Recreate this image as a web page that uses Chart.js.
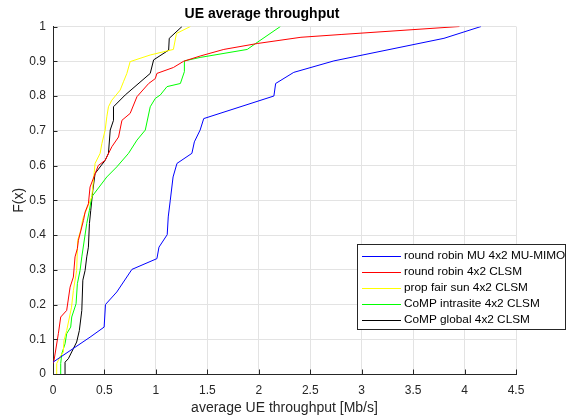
<!DOCTYPE html>
<html>
<head>
<meta charset="utf-8">
<script src="https://cdn.jsdelivr.net/npm/chart.js@4/dist/chart.umd.min.js"></script>
<style>
  html, body { margin: 0; padding: 0; background: #fff; }
  #wrap { width: 567px; height: 419px; }
</style>
</head>
<body>
<div id="wrap"><canvas id="cdfChart" width="567" height="419"></canvas></div>
<script>
// Series names and colours
const seriesLabels = ['round robin MU 4x2 MU-MIMO', 'round robin 4x2 CLSM', 'prop fair sun 4x2 CLSM', 'CoMP intrasite 4x2 CLSM', 'CoMP global 4x2 CLSM'];
const seriesColors = ['#0000ff', '#ff0000', '#ffff00', '#00ff00', '#000000'];

// Axis ticks
const xTicks = [0, 0.5, 1, 1.5, 2, 2.5, 3, 3.5, 4, 4.5];
const yTicks = [0, 0.1, 0.2, 0.3, 0.4, 0.5, 0.6, 0.7, 0.8, 0.9, 1];

// round robin MU 4x2 MU-MIMO
const rrMuX = [0, 0.36, 0.497, 0.51, 0.62, 0.767, 1.01, 1.03, 1.11, 1.12, 1.14, 1.167, 1.205, 1.35, 1.374, 1.43, 1.465, 2.147, 2.164, 2.34, 2.73, 3.80, 4.16];
const rrMuY = [0.034, 0.106, 0.135, 0.2, 0.236, 0.301, 0.332, 0.365, 0.401, 0.452, 0.5, 0.567, 0.606, 0.635, 0.668, 0.702, 0.735, 0.8, 0.836, 0.868, 0.901, 0.966, 1.0];

// round robin 4x2 CLSM
const rrX = [0, 0.01, 0.052, 0.075, 0.133, 0.166, 0.198, 0.214, 0.237, 0.247, 0.296, 0.312, 0.344, 0.36, 0.44, 0.507, 0.572, 0.637, 0.67, 0.75, 0.816, 0.93, 0.994, 1.01, 1.17, 1.27, 1.43, 1.66, 1.985, 2.41, 2.80, 3.95];
const rrY = [0.03, 0.039, 0.116, 0.164, 0.183, 0.25, 0.279, 0.337, 0.361, 0.385, 0.442, 0.466, 0.49, 0.538, 0.60, 0.615, 0.654, 0.682, 0.73, 0.75, 0.798, 0.836, 0.85, 0.865, 0.882, 0.9, 0.915, 0.934, 0.951, 0.969, 0.977, 1.0];

// prop fair sun 4x2 CLSM
const pfX = [0.03, 0.036, 0.075, 0.1, 0.107, 0.133, 0.18, 0.198, 0.23, 0.24, 0.27, 0.29, 0.335, 0.377, 0.409, 0.458, 0.475, 0.507, 0.523, 0.539, 0.572, 0.653, 0.685, 0.718, 0.75, 0.945, 1.17, 1.2, 1.335];
const pfY = [0, 0.03, 0.053, 0.063, 0.097, 0.125, 0.192, 0.24, 0.298, 0.385, 0.414, 0.447, 0.48, 0.51, 0.606, 0.635, 0.663, 0.702, 0.74, 0.769, 0.788, 0.817, 0.841, 0.865, 0.899, 0.918, 0.934, 0.98, 1.0];

// CoMP intrasite 4x2 CLSM
const intraX = [0.075, 0.075, 0.085, 0.117, 0.133, 0.172, 0.182, 0.224, 0.237, 0.263, 0.28, 0.328, 0.354, 0.377, 0.523, 0.62, 0.734, 0.816, 0.897, 0.945, 0.994, 1.043, 1.108, 1.238, 1.277, 1.277, 1.43, 1.888, 1.969, 2.21];
const intraY = [0, 0.03, 0.058, 0.087, 0.116, 0.135, 0.164, 0.202, 0.26, 0.298, 0.337, 0.433, 0.471, 0.51, 0.567, 0.596, 0.635, 0.673, 0.702, 0.769, 0.793, 0.803, 0.827, 0.836, 0.87, 0.901, 0.911, 0.934, 0.951, 1.0];

// CoMP global 4x2 CLSM
const globX = [0.117, 0.117, 0.149, 0.23, 0.256, 0.28, 0.29, 0.312, 0.328, 0.344, 0.354, 0.367, 0.387, 0.409, 0.507, 0.539, 0.556, 0.588, 0.588, 0.702, 0.945, 0.978, 1.124, 1.13, 1.254];
const globY = [0, 0.034, 0.044, 0.092, 0.125, 0.183, 0.27, 0.298, 0.337, 0.365, 0.433, 0.471, 0.529, 0.577, 0.615, 0.635, 0.702, 0.73, 0.769, 0.803, 0.865, 0.904, 0.932, 0.966, 1.0];

const seriesX = [rrMuX, rrX, pfX, intraX, globX];
const seriesY = [rrMuY, rrY, pfY, intraY, globY];

function toPoints(xs, ys) {
    return xs.map((x, i) => ({ x: x, y: ys[i] }));
}

const FONT = "Arial, 'Liberation Sans', Helvetica, sans-serif";
const AXIS_COLOR = '#262626';

// Title, inward tick marks and the boxed legend (MATLAB style)
const matlabDecor = {
    id: 'matlabDecor',
    afterDraw(chart) {
        const ctx = chart.ctx;
        const area = chart.chartArea;
        const xs = chart.scales.x, ys = chart.scales.y;
        ctx.save();

        // title
        ctx.fillStyle = '#000000';
        ctx.font = 'bold 14px ' + FONT;
        ctx.textAlign = 'center';
        ctx.textBaseline = 'middle';
        ctx.fillText('UE average throughput', 262, 14);

        // inward ticks on left and bottom axes
        ctx.strokeStyle = AXIS_COLOR;
        ctx.lineWidth = 1;
        ctx.beginPath();
        xTicks.forEach(v => {
            const px = Math.round(xs.getPixelForValue(v)) + 0.5;
            ctx.moveTo(px, area.bottom);
            ctx.lineTo(px, area.bottom - 4.5);
        });
        yTicks.forEach(v => {
            const py = Math.round(ys.getPixelForValue(v)) + 0.5;
            ctx.moveTo(area.left, py);
            ctx.lineTo(area.left + 4.5, py);
        });
        ctx.stroke();

        // legend box
        const x0 = 357.5, y0 = 244.5, w = 208, h = 85;
        ctx.fillStyle = '#ffffff';
        ctx.fillRect(x0, y0, w, h);
        ctx.strokeStyle = AXIS_COLOR;
        ctx.strokeRect(x0, y0, w, h);
        ctx.font = '11.8px ' + FONT;
        ctx.textBaseline = 'middle';
        ctx.textAlign = 'left';
        chart.data.datasets.forEach((ds, i) => {
            const y = 256 + i * 16;
            ctx.strokeStyle = ds.borderColor;
            ctx.beginPath();
            ctx.moveTo(362, y + 0.5);
            ctx.lineTo(401, y + 0.5);
            ctx.stroke();
            ctx.fillStyle = '#000000';
            ctx.fillText(ds.label, 404, y);
        });
        ctx.restore();
    }
};

const ctx = document.getElementById('cdfChart').getContext('2d');
const cdfChart = new Chart(ctx, {
    type: 'line',
    data: {
        datasets: seriesLabels.map((label, i) => ({
            label: label,
            data: toPoints(seriesX[i], seriesY[i]),
            borderColor: seriesColors[i],
            backgroundColor: seriesColors[i],
            borderWidth: 1,
            pointRadius: 0,
            tension: 0,
            fill: false
        }))
    },
    options: {
        responsive: false,
        animation: false,
        layout: { padding: { top: 26.5, right: 51, left: 0, bottom: 0 } },
        plugins: {
            legend: { display: false },
            tooltip: { enabled: false },
            title: { display: false }
        },
        scales: {
            x: {
                type: 'linear',
                min: 0,
                max: 4.5,
                afterBuildTicks: axis => { axis.ticks = xTicks.map(v => ({ value: v })); },
                afterFit: axis => { axis.height = 45; },
                ticks: {
                    color: AXIS_COLOR,
                    font: { family: FONT, size: 12 },
                    padding: 9,
                    maxRotation: 0,
                    callback: v => String(v)
                },
                grid: { color: '#e3e3e3', drawTicks: false },
                border: { color: AXIS_COLOR },
                title: {
                    display: true,
                    text: 'average UE throughput [Mb/s]',
                    color: AXIS_COLOR,
                    font: { family: FONT, size: 14 },
                    padding: { top: 0, bottom: 2 }
                }
            },
            y: {
                type: 'linear',
                min: 0,
                max: 1,
                afterBuildTicks: axis => { axis.ticks = yTicks.map(v => ({ value: v })); },
                afterFit: axis => { axis.width = 53; },
                ticks: {
                    color: AXIS_COLOR,
                    font: { family: FONT, size: 12 },
                    padding: 7,
                    callback: v => String(v)
                },
                grid: { color: '#e3e3e3', drawTicks: false },
                border: { color: AXIS_COLOR },
                title: {
                    display: true,
                    text: 'F(x)',
                    color: AXIS_COLOR,
                    font: { family: FONT, size: 14 },
                    padding: { top: 11, bottom: 0 }
                }
            }
        }
    },
    plugins: [matlabDecor]
});
</script>
</body>
</html>
